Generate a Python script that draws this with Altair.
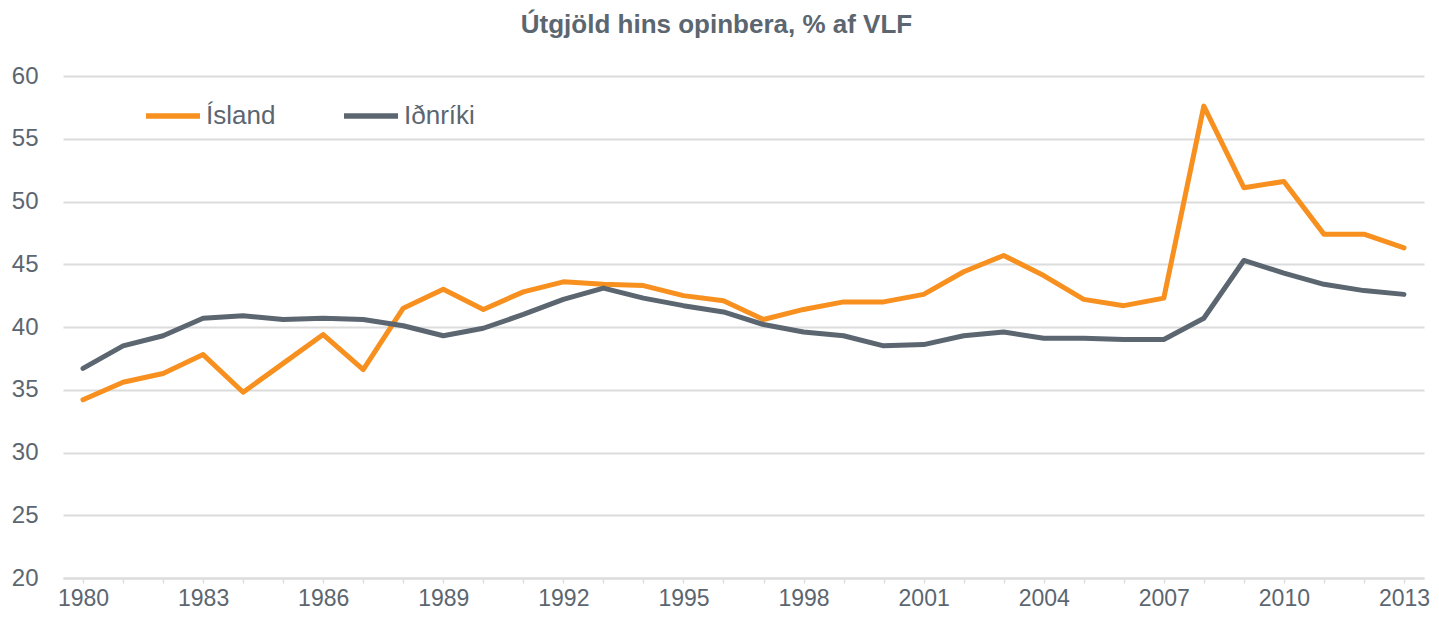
import altair as alt
import pandas as pd

years = list(range(1980, 2014))
island = [34.2, 35.6, 36.3, 37.8, 34.8, 37.1, 39.4, 36.6, 41.5, 43.0,
          41.4, 42.8, 43.6, 43.4, 43.3, 42.5, 42.1, 40.6, 41.4, 42.0,
          42.0, 42.6, 44.4, 45.7, 44.1, 42.2, 41.7, 42.3, 57.6, 51.1,
          51.6, 47.4, 47.4, 46.3]
idnriki = [36.7, 38.5, 39.3, 40.7, 40.9, 40.6, 40.7, 40.6, 40.1, 39.3,
           39.9, 41.0, 42.2, 43.1, 42.3, 41.7, 41.2, 40.2, 39.6, 39.3,
           38.5, 38.6, 39.3, 39.6, 39.1, 39.1, 39.0, 39.0, 40.7, 45.3,
           44.3, 43.4, 42.9, 42.6]
series_names = ["Ísland", "Iðnríki"]
series_colors = ["#F7901E", "#5B6670"]

df = pd.concat([
    pd.DataFrame({"Ár": years, "Gildi": island, "Röð": series_names[0]}),
    pd.DataFrame({"Ár": years, "Gildi": idnriki, "Röð": series_names[1]}),
])

FONT = "Liberation Sans"
TXT = "#5B6670"
GRID = "#DCDCDC"

chart = alt.Chart(df).mark_line(strokeWidth=5, strokeCap="round", strokeJoin="round").encode(
    x=alt.X("Ár:Q",
            scale=alt.Scale(domain=[1979.5, 2013.5], nice=False, zero=False),
            axis=alt.Axis(title=None, values=years, grid=False,
                          labelExpr="(datum.value - 1980) % 3 == 0 ? datum.value : ''",
                          labelFontSize=23, labelColor=TXT, labelFont=FONT,
                          labelPadding=4, domainColor=GRID, domainWidth=2,
                          tickColor=GRID, tickWidth=1.5, tickSize=5,
                          labelFlush=False, labelOverlap=False)),
    y=alt.Y("Gildi:Q",
            scale=alt.Scale(domain=[20, 60], nice=False, zero=False),
            axis=alt.Axis(title=None, values=list(range(20, 61, 5)), domain=False, ticks=False,
                          gridColor=GRID, gridWidth=2,
                          labelFontSize=24, labelColor=TXT, labelFont=FONT,
                          labelPadding=25)),
    color=alt.Color("Röð:N",
                    scale=alt.Scale(domain=series_names, range=series_colors),
                    sort=series_names,
                    legend=alt.Legend(title=None, orient="none", legendX=80, legendY=10,
                                      direction="horizontal", symbolType="stroke",
                                      symbolSize=2916, symbolStrokeWidth=5.5,
                                      labelFontSize=26, labelColor=TXT, labelFont=FONT,
                                      labelOffset=3, columnPadding=57)),
).properties(
    width=1361, height=502,
    padding={"left": 55, "top": 68, "right": 7, "bottom": 37},
    autosize=alt.AutoSizeParams(type="none"),
    title=alt.Title("Útgjöld hins opinbera, % af VLF", fontSize=26, fontWeight="bold",
                    color=TXT, font=FONT, anchor="middle", offset=26, dx=-27),
).configure_view(stroke=None)

chart.save("out.html", embed_options={"renderer": "svg", "actions": False})
